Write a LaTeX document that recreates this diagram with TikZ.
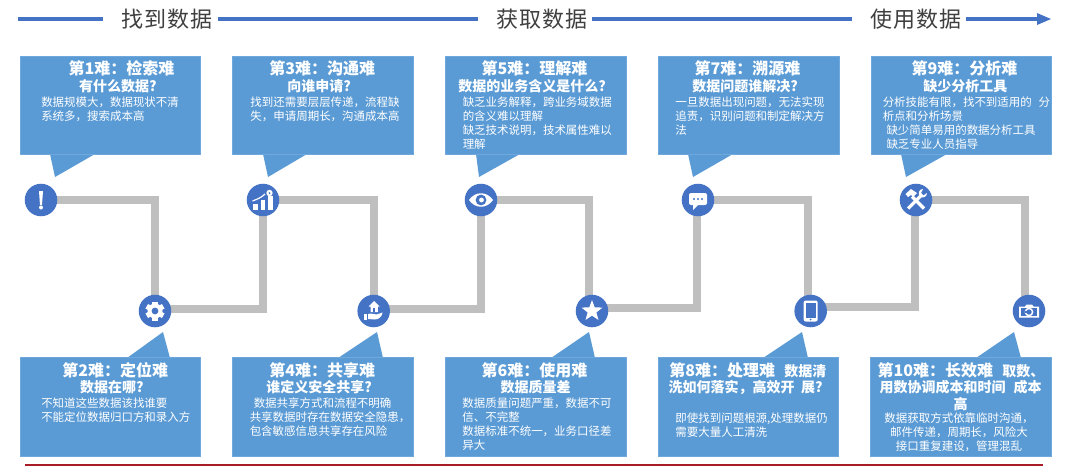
\documentclass[tikz,border=0pt]{standalone}
\usepackage{fontspec}
\usetikzlibrary{backgrounds}
\setmainfont{Noto Sans CJK SC}
\newfontfamily\headfam[LetterSpace=6]{Noto Sans CJK SC}
\definecolor{boxblue}{HTML}{5B9BD5}
\definecolor{boxedge}{HTML}{6FA8DC}
\definecolor{dotblue}{HTML}{4472C4}
\definecolor{pathgray}{HTML}{BFBFBF}
\definecolor{headgray}{HTML}{3F3F3F}
\definecolor{rulered}{HTML}{A81C26}
\newcommand\tfont{\bfseries\fontsize{12}{14}\selectfont}
\newcommand\sfont{\bfseries\fontsize{10.5}{13}\selectfont}
\newcommand\bfont{\fontsize{8.6}{10.5}\selectfont}
\tikzset{
  x=0.75pt,y=-0.75pt,
  card/.style={fill=boxblue,draw=boxedge,line width=0.3pt,minimum width=135.4pt,minimum height=73.8pt,inner sep=0pt,anchor=north west},
  tail/.style={fill=boxblue,draw=none},
  ttl/.style={text=white,inner sep=0pt,font=\tfont},
  sub/.style={text=white,inner sep=0pt,font=\sfont},
  txt/.style={text=white,inner sep=0pt,font=\bfont,align=left,anchor=north west},
  dot/.style={circle,fill=dotblue,minimum size=24.4pt,inner sep=0pt},
  link/.style={draw=pathgray,line width=6pt,line join=miter},
  hline/.style={draw=dotblue,line width=3pt},
  head/.style={text=headgray,inner sep=0pt,font=\headfam\fontsize{16.5}{18}\selectfont},
  wh/.style={fill=white,draw=none},
}
\begin{document}
\begin{tikzpicture}
\useasboundingbox (0,0) rectangle (1078,469);
% header
\node[head] (h1) at (167,19) {找到数据};
\node[head] (h2) at (542,19) {获取数据};
\node[head] (h3) at (916,19) {使用数据};
\coordinate (hs) at (18,19);
\coordinate (he) at (1037,19);
\draw[hline] (hs) -- (103,19);
\draw[hline] (218,19) -- (478,19);
\draw[hline] (592,19) -- (852,19);
\draw[hline] (966,19) -- (he);
\fill[dotblue] (1037,13) -- (1051,19) -- (1037,25) -- cycle;
% red rule
\coordinate (ra) at (25,465);
\coordinate (rb) at (1043,465);
\draw[rulered,line width=1.6pt] (ra) -- (rb);
% tails
\fill[tail] (50,154) -- (55,177) -- (95,154) -- cycle;
\fill[tail] (263,154) -- (268,177) -- (307,154) -- cycle;
\fill[tail] (476,154) -- (479,177) -- (520,154) -- cycle;
\fill[tail] (688,154) -- (693,177) -- (733,154) -- cycle;
\fill[tail] (901,154) -- (906,177) -- (947,154) -- cycle;
\fill[tail] (127,358) -- (163,332) -- (170,358) -- cycle;
\fill[tail] (338,358) -- (377,332) -- (383,358) -- cycle;
\fill[tail] (551,358) -- (589,332) -- (595,358) -- cycle;
\fill[tail] (763,358) -- (802,332) -- (808,358) -- cycle;
\fill[tail] (976,358) -- (1014,332) -- (1021,358) -- cycle;
% cards
\node[card] (k1) at (19.5,56) {};
\node[card] (k3) at (232.3,56) {};
\node[card] (k5) at (445,56) {};
\node[card] (k7) at (658,56) {};
\node[card] (k9) at (870.7,56) {};
\node[card] (k2) at (19.5,357.3) {};
\node[card] (k4) at (232.3,357.3) {};
\node[card] (k6) at (445,357.3) {};
\node[card] (k8) at (657.7,357.3) {};
\node[card] (k10) at (870.3,357.3) {};
% top texts
\node[ttl] (t1) at (121.5,68) {第1难：检索难};
\node[sub] (s1) at (118,86.5) {有什么数据?};
\node[txt] (b1) at (41,96.5) {数据规模大，数据现状不清\\系统多，搜索成本高};
\node[ttl] (t3) at (322.2,68) {第3难：沟通难};
\node[sub] (s3) at (319,86.5) {向谁申请?};
\node[txt] (b3) at (250.2,96.5) {找到还需要层层传递，流程缺\\失，申请周期长，沟通成本高};
\node[ttl] (t5) at (534.5,68) {第5难：理解难};
\node[sub] (s5) at (532,86.5) {数据的业务含义是什么?};
\node[txt] (b5) at (462.5,96.5) {缺乏业务解释，跨业务域数据\\的含义难以理解\\缺乏技术说明，技术属性难以\\理解};
\node[ttl] (t7) at (747.5,68) {第7难：溯源难};
\node[sub] (s7) at (745,86.5) {数据问题谁解决?};
\node[txt] (b7) at (675.2,96.5) {一旦数据出现问题，无法实现\\追责，识别问题和制定解决方\\法};
\node[ttl] (t9) at (964.5,68) {第9难：分析难};
\node[sub] (s9) at (965.3,86.5) {缺少分析工具};
\node[txt] (b9) at (882.5,96.5) {分析技能有限，找不到适用的\hspace{5pt}分\\析点和分析场景\\\hspace*{2.8pt}缺少简单易用的数据分析工具\\\hspace*{2.8pt}缺乏专业人员指导};
% bottom texts
\node[ttl] (t2) at (115.2,370) {第2难：定位难};
\node[sub] (s2) at (112,387.2) {数据在哪?};
\node[txt] (b2) at (41,397.5) {不知道这些数据该找谁要\\不能定位数据归口方和录入方};
\node[ttl] (t4) at (322.2,370) {第4难：共享难};
\node[sub] (s4) at (319,387.2) {谁定义安全共享?};
\node[txt] (b4) at (249.5,397.5) {\hspace*{3pt}数据共享方式和流程不明确\\共享数据时存在数据安全隐患，\\包含敏感信息共享存在风险};
\node[ttl] (t6) at (534.5,370) {第6难：使用难};
\node[sub] (s6) at (535.5,387.2) {数据质量差};
\node[txt] (b6) at (462.2,397.5) {数据质量问题严重，数据不可\\信、不完整\\数据标准不统一，业务口径差\\异大};
\node[ttl,anchor=west] (t8) at (669,370) {第8难：处理难\hspace{7pt}{\sfont 数据清}};
\node[sub,anchor=west] (s8) at (668.3,387.2) {洗如何落实，高效开\hspace{5pt}展?};
\node[txt] (b8) at (675.2,412.5) {即使找到问题根源,处理数据仍\\需要大量人工清洗};
\node[ttl,anchor=west] (t10) at (877.3,370) {第10难：长效难\hspace{7pt}{\sfont 取数、}};
\node[sub,align=center] (s10) at (960.7,395.5) {用数协调成本和时间\hspace{6pt}成本\\高};
\node[txt,align=center,anchor=north] (b10) at (959,412.5) {数据获取方式依靠临时沟通，\\邮件传递，周期长，风险大\\接口重复建设，管理混乱};
% dots
\node[dot] (c1) at (41,200) {};
\node[dot] (c2) at (155,311) {};
\node[dot] (c3) at (263,200) {};
\node[dot] (c4) at (373.7,311) {};
\node[dot] (c5) at (481,200) {};
\node[dot] (c6) at (592,311) {};
\node[dot] (c7) at (698,200) {};
\node[dot] (c8) at (810.7,311) {};
\node[dot] (c9) at (916,200) {};
\node[dot] (c10) at (1029,311) {};
% links
\begin{scope}[on background layer]
\draw[link] (c1.center) -| (c2.center);
\draw[link] ([yshift=1.5pt]c2.center) -| (c3.center);
\draw[link] (c3.center) -| (c4.center);
\draw[link] ([yshift=1.5pt]c4.center) -| (c5.center);
\draw[link] (c5.center) -| ([xshift=-2.2pt]c6.center);
\draw[link] ([yshift=2.2pt]c6.center) -| ([xshift=-0.75pt]c7.center);
\draw[link] (c7.center) -| ([xshift=-2pt]c8.center);
\draw[link] ([yshift=3pt]c8.center) -| ([xshift=-0.75pt]c9.center);
\draw[link] (c9.center) -| ([xshift=-3pt]c10.center);
\end{scope}
% icon 1: exclamation
\begin{scope}[shift={(c1.center)}]
\fill[wh] (-2,-9) -- (2,-9) -- (1,5) -- (-1,5) -- cycle;
\fill[wh] (0,7.5) circle (2);
\end{scope}
% icon 2: gear
\begin{scope}[shift={(c2.center)}]
\foreach \a in {0,60,...,300}{\fill[wh,rotate=\a] (-2.6,-9.5) rectangle (2.6,-5);}
\fill[wh] (0,0) circle (7.5);
\fill[dotblue] (0,0) circle (3.4);
\end{scope}
% icon 3: chart
\begin{scope}[shift={(c3.center)}]
\fill[wh] (-10,3.5) rectangle (-5,9.5);
\fill[wh] (-2.5,0) rectangle (2.3,9.5);
\fill[wh] (5,-4.5) rectangle (9.5,9.5);
\draw[white,line width=0.9pt] (-10.5,1) .. controls (-5,-1) and (-1,-3) .. (2,-6);
\fill[wh] (6.5,-7) circle (3.2);
\fill[dotblue] (6.5,-7) circle (1);
\end{scope}
% icon 4: house on hand
\begin{scope}[shift={(c4.center)}]
\fill[wh] (0.5,-10) -- (6,-4.5) -- (4.2,-4.5) -- (4.2,1) -- (-3.2,1) -- (-3.2,-4.5) -- (-5,-4.5) -- cycle;
\fill[dotblue] (-0.6,-3) rectangle (1.6,1);
\fill[wh] (-10,2.5) rectangle (-6.5,9);
\fill[wh] (-5.5,3) .. controls (-2,1.5) and (0,4) .. (3,3.5) -- (9,1.5) .. controls (8,6) and (5,8.5) .. (1,8.5) -- (-5.5,8) -- cycle;
\end{scope}
% icon 5: eye
\begin{scope}[shift={(c5.center)}]
\fill[wh] (-12,0) .. controls (-6,-9) and (6,-9) .. (12,0) .. controls (6,9) and (-6,9) .. (-12,0) -- cycle;
\fill[dotblue] (0,0) circle (5.4);
\fill[wh] (0.5,0) circle (2.4);
\end{scope}
% icon 6: star
\begin{scope}[shift={(c6.center)}]
\fill[wh] (-90:11) -- (-54:4.6) -- (-18:11) -- (18:4.6) -- (54:11) -- (90:4.6) -- (126:11) -- (162:4.6) -- (198:11) -- (234:4.6) -- cycle;
\end{scope}
% icon 7: chat
\begin{scope}[shift={(c7.center)}]
\fill[wh,rounded corners=1.5pt] (-9,-7) rectangle (9,5);
\fill[wh] (-5,4) -- (-5,10) -- (1,4) -- cycle;
\foreach \p in {-4,0,4}{\fill[dotblue] (\p,-1) circle (1.1);}
\end{scope}
% icon 8: phone
\begin{scope}[shift={(c8.center)}]
\fill[wh,rounded corners=1.5pt] (-7,-10.5) rectangle (7,10.5);
\fill[dotblue] (-5.2,-8) rectangle (5.2,6.5);
\fill[dotblue] (0,8.5) circle (1);
\end{scope}
% icon 9: tools
\begin{scope}[shift={(c9.center)}]
\draw[white,line width=2.4pt] (-8,8.5) -- (5,-4.5);
\fill[wh] (7,-11) .. controls (2.5,-11) and (2,-6) .. (3.5,-4.5) -- (5,-3) .. controls (7,-2) and (11,-3) .. (11,-7) -- (7.5,-4.5) -- (5,-7) -- cycle;
\draw[white,line width=2.4pt] (8,8.5) -- (-4,-3.5);
\fill[wh] (-10.5,-6) -- (-5,-11) -- (1,-7) -- (-3,-3) -- (-5,-5) -- (-8,-3) -- cycle;
\end{scope}
% icon 10: camera
\begin{scope}[shift={(c10.center)}]
\fill[wh] (-10,-4.5) -- (-4,-4.5) -- (-2.5,-6.5) -- (3,-6.5) -- (4.5,-4.5) -- (10,-4.5) -- (10,6.5) -- (-10,6.5) -- cycle;
\fill[dotblue] (-8.3,-2.8) rectangle (8.3,4.8);
\draw[white,line width=1.1pt] (0,1) circle (3.6);
\fill[dotblue] (-4.5,0) rectangle (-1.5,2);
\end{scope}
\end{tikzpicture}
\end{document}
